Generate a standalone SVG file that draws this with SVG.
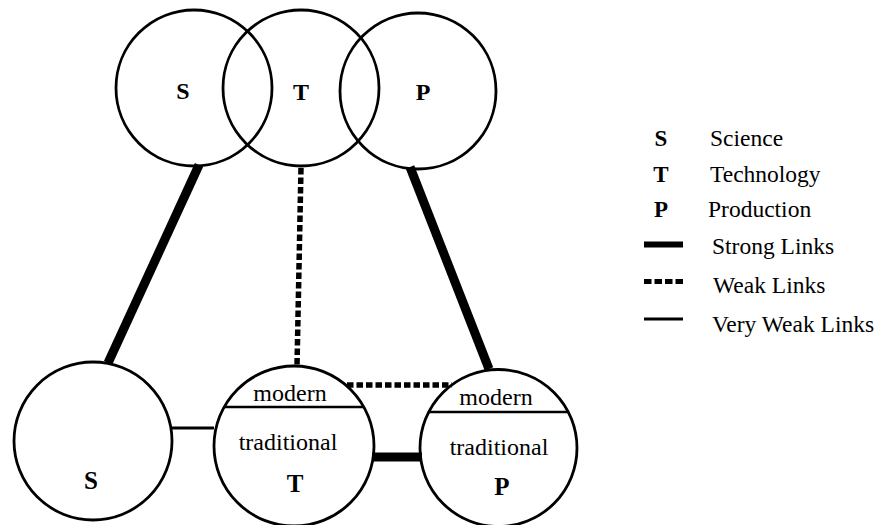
<svg xmlns="http://www.w3.org/2000/svg" width="890" height="525" viewBox="0 0 890 525">
  <style>
    .ring { fill: none; stroke: #000; stroke-width: 2.8; }
    .divider { stroke: #000; stroke-width: 2.6; }
    .lbl { font-family: "Liberation Serif", "Times New Roman", serif; fill: #000; text-anchor: middle; }
    .big { font-weight: bold; }
    .txt { font-family: "Liberation Serif", "Times New Roman", serif; fill: #000; font-size: 23.5px; }
    .strong { stroke: #000; stroke-width: 9; fill: none; }
    .weak { stroke: #000; stroke-width: 5.5; stroke-dasharray: 6.5 3; fill: none; }
    .vweak { stroke: #000; stroke-width: 2.8; fill: none; }
  </style>

  <rect width="890" height="525" fill="#fff"/>

  <!-- links between the spheres -->
  <g id="connectors">
    <line class="strong" x1="199" y1="165" x2="108" y2="363"/>
    <line class="strong" x1="410" y1="167" x2="489" y2="369"/>
    <line class="weak" x1="301" y1="168" x2="297" y2="366"/>
    <line class="weak" x1="347" y1="385" x2="452" y2="385"/>
    <line class="strong" x1="372" y1="457" x2="422" y2="457"/>
    <line class="vweak" x1="172" y1="428" x2="214" y2="428"/>
  </g>

  <!-- upper row: overlapping S / T / P -->
  <g id="top-S">
    <circle class="ring" cx="194" cy="88" r="78"/>
    <text class="lbl big" x="183" y="99" font-size="24">S</text>
  </g>
  <g id="top-T">
    <circle class="ring" cx="301" cy="88" r="78"/>
    <text class="lbl big" x="301" y="100" font-size="24">T</text>
  </g>
  <g id="top-P">
    <circle class="ring" cx="418" cy="91" r="78"/>
    <text class="lbl big" x="423" y="100" font-size="24">P</text>
  </g>

  <!-- lower row: separate spheres -->
  <g id="bottom-S">
    <circle class="ring" cx="93" cy="441" r="79"/>
    <text class="lbl big" x="91" y="489" font-size="25">S</text>
  </g>
  <g id="bottom-T">
    <circle class="ring" cx="294" cy="446" r="80"/>
    <line class="divider" x1="224" y1="407" x2="364" y2="407"/>
    <text class="lbl" x="290" y="401" font-size="24">modern</text>
    <text class="lbl" x="288" y="450" font-size="24">traditional</text>
    <text class="lbl big" x="295" y="492" font-size="25">T</text>
  </g>
  <g id="bottom-P">
    <circle class="ring" cx="498.5" cy="448" r="78.5"/>
    <line class="divider" x1="429" y1="412" x2="568" y2="412"/>
    <text class="lbl" x="496" y="405" font-size="24">modern</text>
    <text class="lbl" x="499" y="455" font-size="24">traditional</text>
    <text class="lbl big" x="502" y="495" font-size="25">P</text>
  </g>

  <!-- key -->
  <g id="legend">
    <text class="lbl big" x="661" y="146" font-size="23">S</text>
    <text class="txt" x="710" y="146">Science</text>
    <text class="lbl big" x="661" y="182" font-size="23">T</text>
    <text class="txt" x="710" y="182">Technology</text>
    <text class="lbl big" x="661" y="217" font-size="23">P</text>
    <text class="txt" x="708" y="217">Production</text>
    <line stroke="#000" stroke-width="6" x1="644" y1="244.5" x2="683" y2="244.5"/>
    <text class="txt" x="712" y="254">Strong Links</text>
    <line stroke="#000" stroke-width="5" stroke-dasharray="7.5 3" x1="644" y1="281.5" x2="683" y2="281.5"/>
    <text class="txt" x="713" y="293">Weak Links</text>
    <line stroke="#000" stroke-width="3" x1="644" y1="319" x2="683" y2="319"/>
    <text class="txt" x="712" y="332">Very Weak Links</text>
  </g>
</svg>
